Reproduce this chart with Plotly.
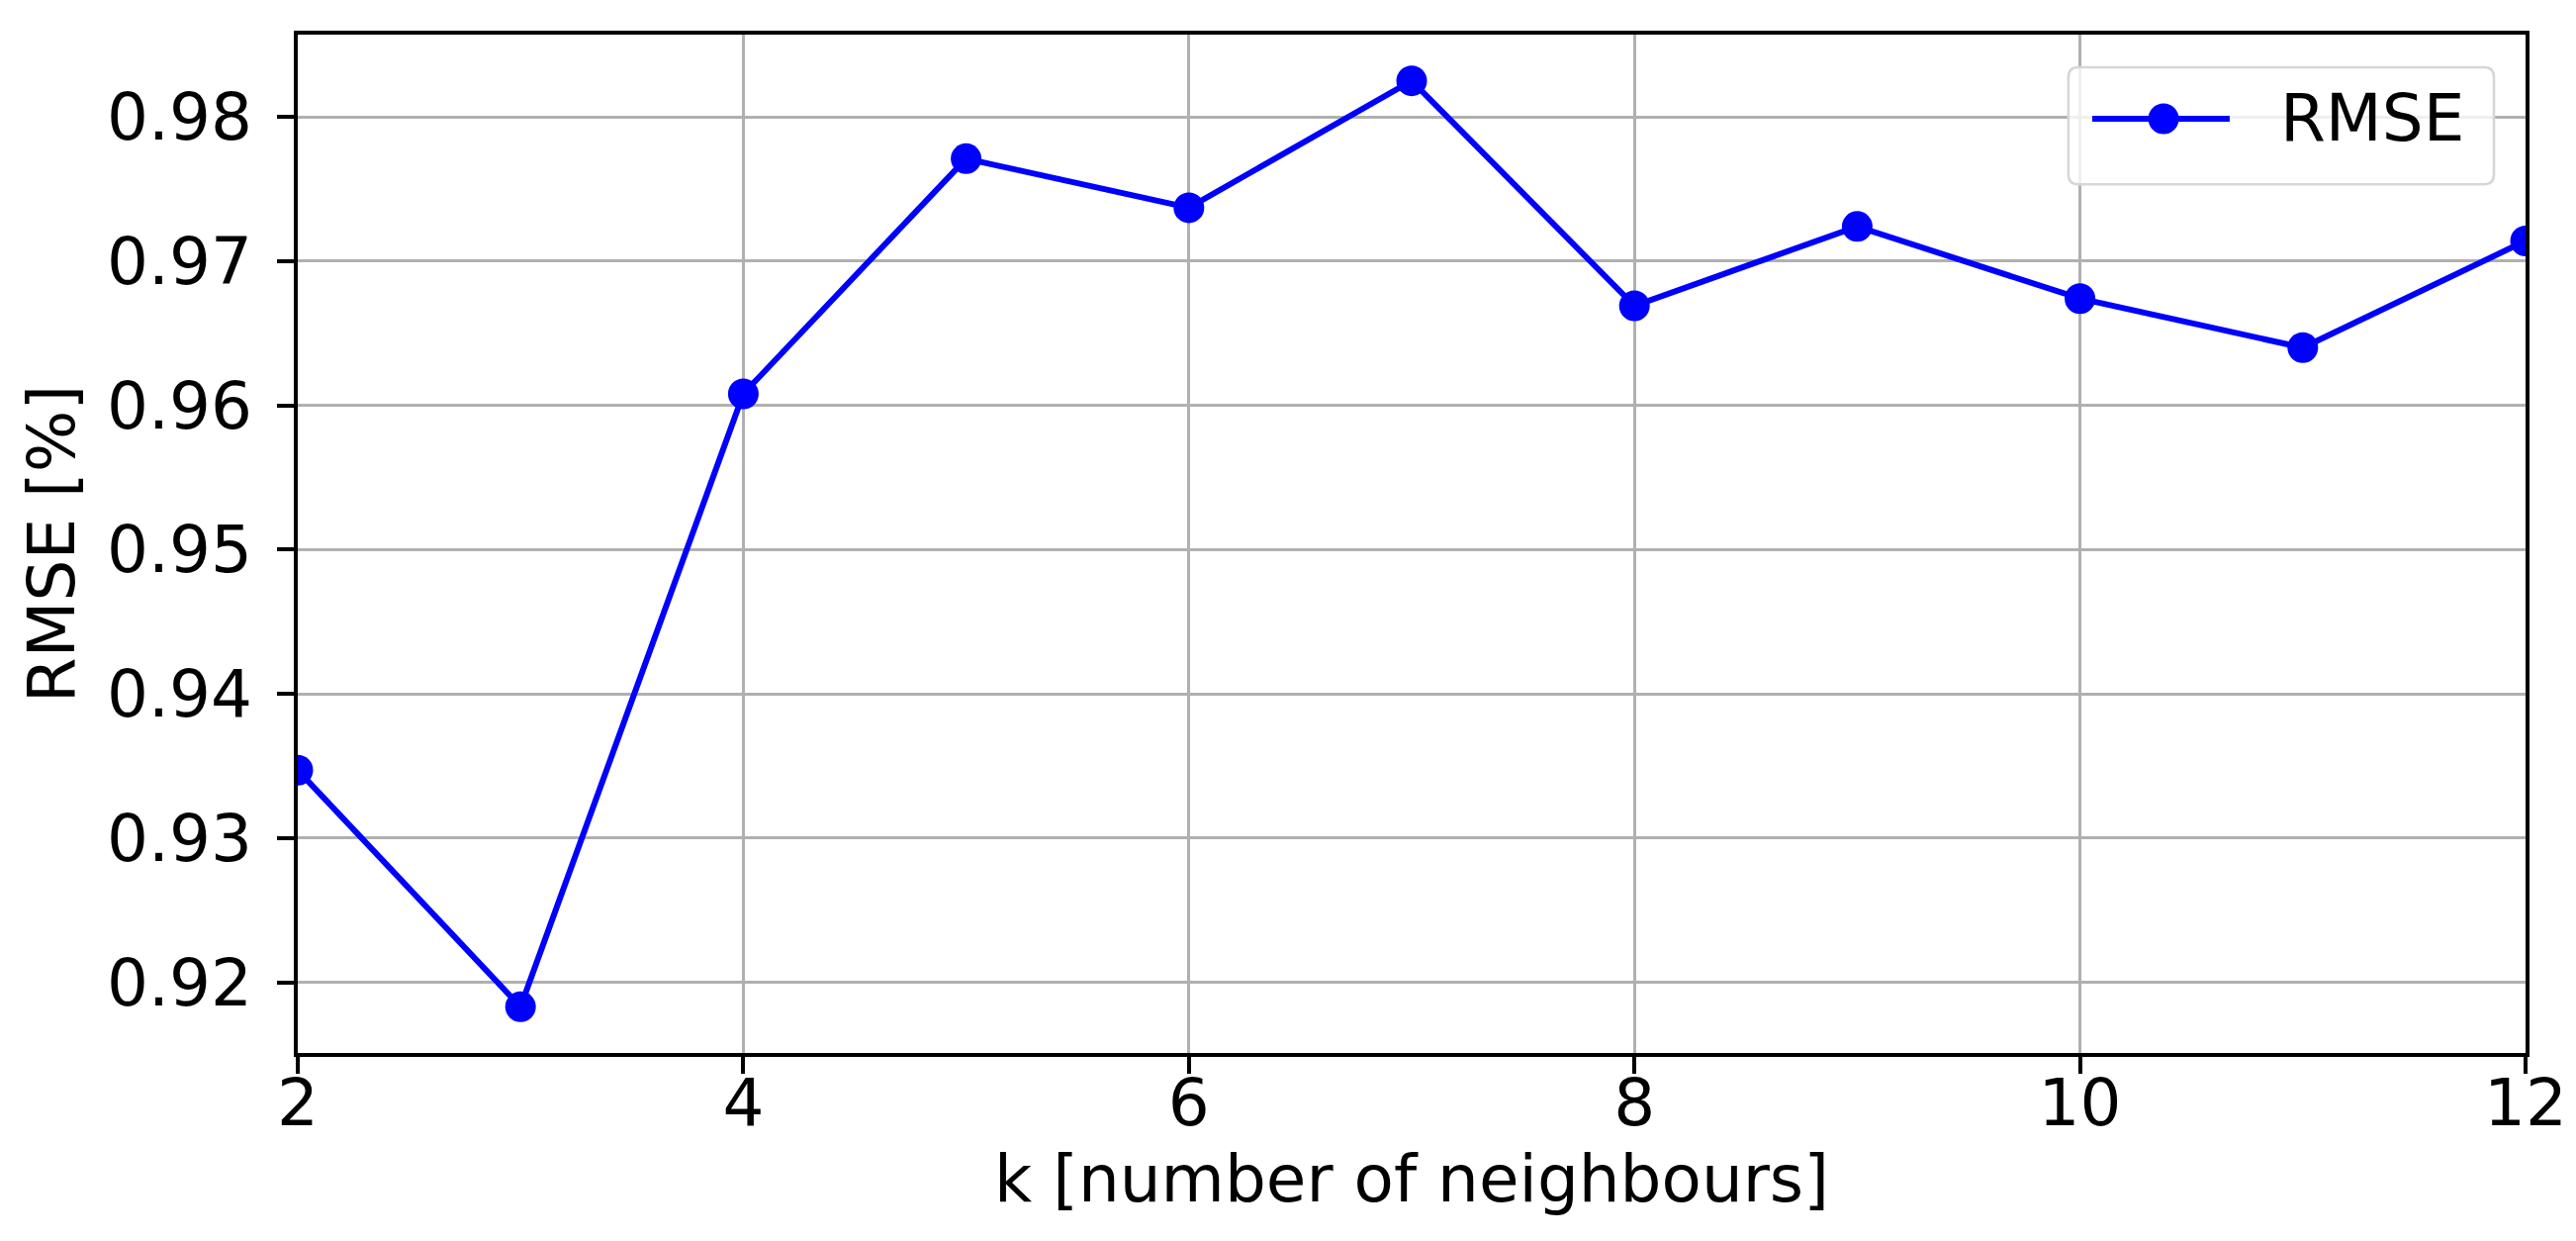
import plotly.graph_objects as go

# dados
k_vizinhos = [2, 3, 4, 5, 6, 7, 8, 9, 10, 11, 12]
rmse = [0.9347, 0.9183, 0.9608, 0.9771, 0.9737, 0.9825, 0.9669, 0.9724, 0.9674, 0.9640, 0.9714]

ticks_x = [2, 4, 6, 8, 10, 12]
ticks_y = [0.92, 0.93, 0.94, 0.95, 0.96, 0.97, 0.98]
rotulos_y = ['0.92', '0.93', '0.94', '0.95', '0.96', '0.97', '0.98']

azul = '#0000ff'
fonte = 'DejaVu Sans'
tam = 66

fig = go.Figure()

fig.add_trace(go.Scatter(x=k_vizinhos, y=rmse,
                         mode='lines+markers',
                         line=dict(color=azul, width=6),
                         marker=dict(color=azul, size=31),
                         name='RMSE',
                         showlegend=False))

# eixos no estilo matplotlib
eixo = dict(showline=True, linecolor='black', linewidth=3.5, mirror=True,
            ticks='outside', ticklen=17, tickwidth=3.5, tickcolor='black',
            showgrid=True, gridcolor='#b0b0b0', gridwidth=2.5,
            zeroline=False, tickfont=dict(family=fonte, size=tam, color='black'))

fig.update_xaxes(range=[2, 12], tickvals=ticks_x,
                 ticklabelstandoff=-27,
                 title=dict(text='k [number of neighbours]', standoff=14,
                            font=dict(family=fonte, size=tam, color='black')),
                 **eixo)
fig.update_yaxes(range=[0.9151, 0.9857], tickvals=ticks_y, ticktext=rotulos_y,
                 ticklabelstandoff=12,
                 title=dict(text='RMSE [%]', standoff=12,
                            font=dict(family=fonte, size=tam, color='black')),
                 **eixo)

# legenda desenhada à mão (caixa arredondada, linha, marcador e texto)
x0, x1, y0, y1 = 0.7948, 0.9858, 0.853, 0.968
rx, ry = 0.0045, 0.0097
caixa = (f'M{x0 + rx},{y0} L{x1 - rx},{y0} Q{x1},{y0} {x1},{y0 + ry} '
         f'L{x1},{y1 - ry} Q{x1},{y1} {x1 - rx},{y1} '
         f'L{x0 + rx},{y1} Q{x0},{y1} {x0},{y1 - ry} '
         f'L{x0},{y0 + ry} Q{x0},{y0} {x0 + rx},{y0} Z')
fig.add_shape(type='path', path=caixa, xref='paper', yref='paper',
              fillcolor='rgba(255,255,255,0.8)', line=dict(color='#d6d6d6', width=2.5),
              layer='above')
fig.add_shape(type='line', xref='paper', yref='paper',
              x0=0.8055, x1=0.8672, y0=0.9174, y1=0.9174,
              line=dict(color=azul, width=6), layer='above')
fig.add_shape(type='circle', xref='paper', yref='paper',
              xsizemode='pixel', ysizemode='pixel',
              xanchor=0.8375, yanchor=0.9174, x0=-15.5, x1=15.5, y0=-15.5, y1=15.5,
              fillcolor=azul, line=dict(color=azul, width=0), layer='above')
fig.add_annotation(text='RMSE', xref='paper', yref='paper',
                   x=0.8890, y=0.9174, xanchor='left', yanchor='middle',
                   showarrow=False, font=dict(family=fonte, size=tam, color='black'))

fig.update_layout(width=2604, height=1254,
                  margin=dict(l=293, r=59, t=27, b=198),
                  paper_bgcolor='white', plot_bgcolor='white',
                  font=dict(family=fonte, color='black'))

fig.write_html('out.html')
